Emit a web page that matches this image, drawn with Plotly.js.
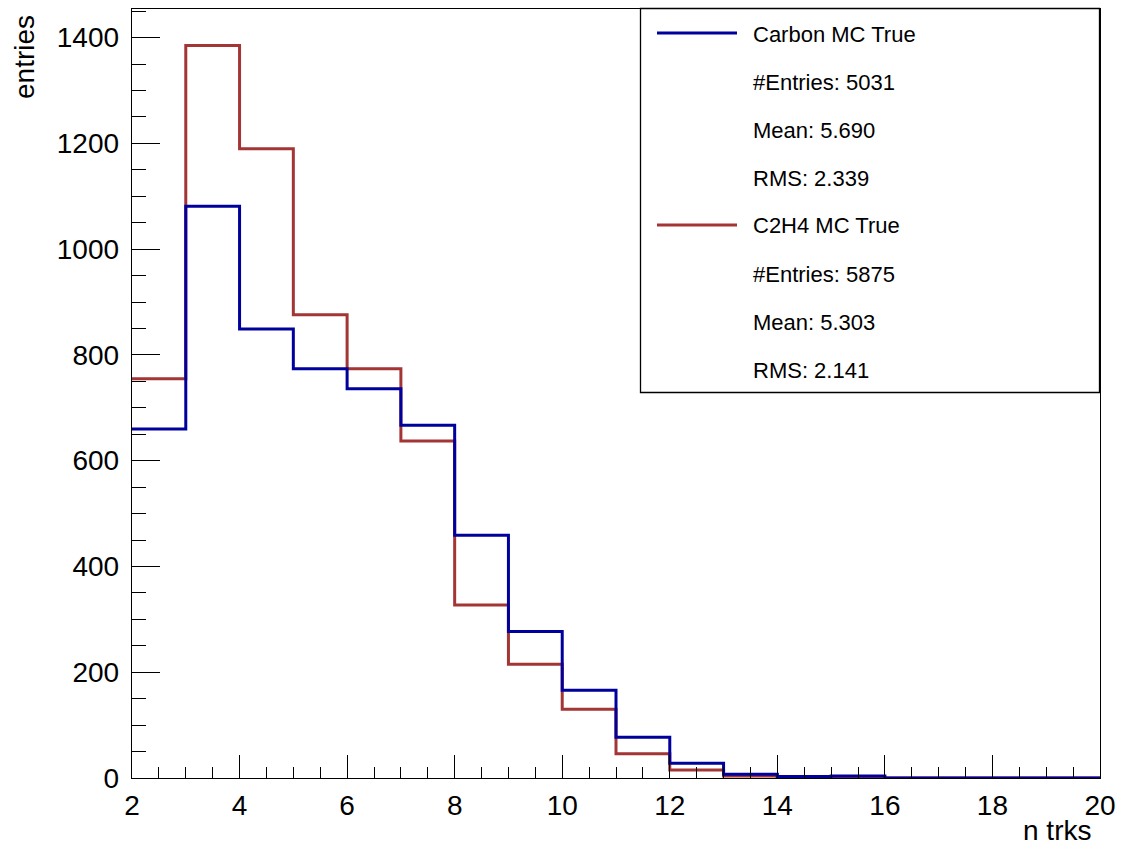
<!DOCTYPE html>
<html>
<head>
<meta charset="utf-8">
<script src="https://cdn.plot.ly/plotly-3.0.1.min.js"></script>
<style>
html,body{margin:0;padding:0;background:#fff;}
#chart{width:1122px;height:847px;}
</style>
</head>
<body>
<div id="chart"></div>
<script>
// Bin edges (n trks), 1-wide bins from 2 to 20
var binEdges = [2,3,4,5,6,7,8,9,10,11,12,13,14,15,16,17,18,19,20];
// Counts per bin
var carbonCounts = [660,1081,849,774,736,667,459,277,166,77,28,7,3,4,0,0,0,0];
var c2h4Counts   = [755,1385,1190,876,774,637,327,215,130,46,15,4,2,1,0,0,0,0];

var carbonName = "Carbon MC True";
var c2h4Name = "C2H4 MC True";
var carbonStats = ["#Entries: 5031", "Mean: 5.690", "RMS: 2.339"];
var c2h4Stats   = ["#Entries: 5875", "Mean: 5.303", "RMS: 2.141"];

var xTitle = "n trks";
var yTitle = "entries";

var blue = "#00009c";
var red = "#a33535";

function stepY(counts){ return counts.concat([counts[counts.length-1]]); }

var traces = [
  {x: binEdges, y: stepY(c2h4Counts), type: "scatter", mode: "lines",
   line: {shape: "hv", color: red, width: 3}, name: c2h4Name, showlegend: false, hoverinfo: "skip"},
  {x: binEdges, y: stepY(carbonCounts), type: "scatter", mode: "lines",
   line: {shape: "hv", color: blue, width: 3}, name: carbonName, showlegend: false, hoverinfo: "skip"}
];

// Plot area geometry (pixels) used to convert legend box placement to paper coords
var W = 1122, H = 847, L = 132, R = 22, T = 9, B = 69;
var pw = W - L - R, ph = H - T - B;
function px(xp){ return (xp - L) / pw; }
function py(yp){ return (H - B - yp) / ph; }

var font = {family: "Liberation Sans, Arial, Helvetica, sans-serif", color: "#000"};

var shapes = [
  {type: "rect", xref: "paper", yref: "paper", x0: px(640.5), x1: px(1099.5), y0: py(392.5), y1: py(8.5),
   line: {color: "#000", width: 1.3}, fillcolor: "#fff", layer: "above"},
  {type: "line", xref: "paper", yref: "paper", x0: px(657), x1: px(737), y0: py(33), y1: py(33),
   line: {color: blue, width: 3}, layer: "above"},
  {type: "line", xref: "paper", yref: "paper", x0: px(657), x1: px(737), y0: py(225), y1: py(225),
   line: {color: red, width: 3}, layer: "above"}
];

var legendLines = [carbonName].concat(carbonStats).concat([c2h4Name]).concat(c2h4Stats);
var annotations = legendLines.map(function(t, i){
  return {text: t, xref: "paper", yref: "paper", x: px(751), y: py(34 + i * 48),
          xanchor: "left", yanchor: "middle", showarrow: false,
          font: Object.assign({}, font, {size: 22})};
});
annotations.push({text: xTitle, xref: "paper", yref: "paper", x: px(1093), y: py(830),
  xanchor: "right", yanchor: "middle", showarrow: false, font: Object.assign({}, font, {size: 28})});
annotations.push({text: yTitle, xref: "paper", yref: "paper", x: px(24), y: py(57),
  xanchor: "center", yanchor: "middle", textangle: -90, showarrow: false, font: Object.assign({}, font, {size: 28})});

var layout = {
  width: W, height: H,
  margin: {l: L, r: R, t: T, b: B, pad: 0},
  paper_bgcolor: "#fff", plot_bgcolor: "#fff",
  showlegend: false,
  font: font,
  xaxis: {
    range: [2, 20], dtick: 2, tick0: 2, ticks: "inside", ticklen: 23, tickwidth: 1, tickcolor: "#000",
    showline: true, linecolor: "#000", linewidth: 1.3, mirror: true, showgrid: false, zeroline: false,
    tickfont: {family: font.family, size: 28, color: "#000"}, ticklabelstandoff: 2,
    minor: {dtick: 0.5, ticks: "inside", ticklen: 11, tickcolor: "#000", tickwidth: 1, showgrid: false}
  },
  yaxis: {
    range: [0, 1454], dtick: 200, tick0: 0, ticks: "inside", ticklen: 28, tickwidth: 1, tickcolor: "#000",
    showline: true, linecolor: "#000", linewidth: 1.3, mirror: true, showgrid: false, zeroline: false,
    tickfont: {family: font.family, size: 28, color: "#000"}, ticklabelstandoff: 6,
    minor: {dtick: 50, ticks: "inside", ticklen: 14, tickcolor: "#000", tickwidth: 1, showgrid: false}
  },
  shapes: shapes,
  annotations: annotations
};

Plotly.newPlot("chart", traces, layout, {staticPlot: true, displayModeBar: false});
</script>
</body>
</html>
